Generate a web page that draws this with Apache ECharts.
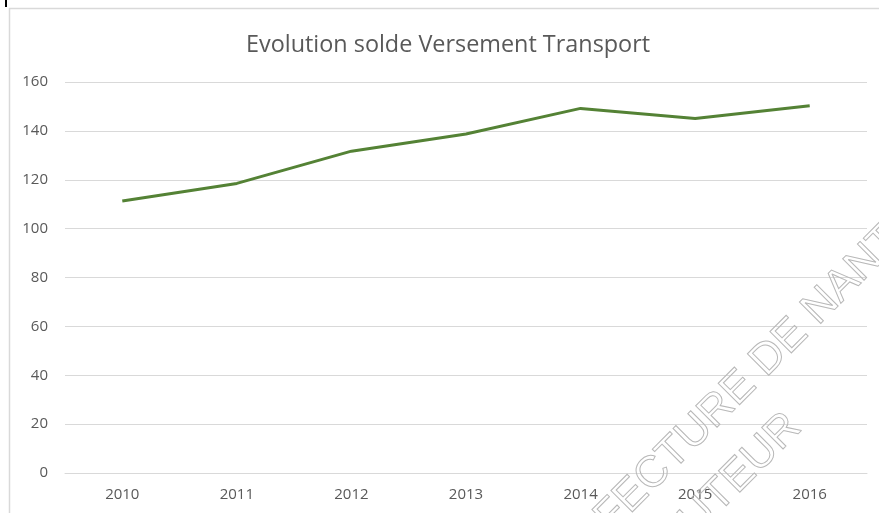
<!DOCTYPE html>
<html>
<head>
<meta charset="utf-8">
<script src="https://cdn.jsdelivr.net/npm/echarts@6/dist/echarts.min.js"></script>
<style>
  html, body { margin: 0; padding: 0; background: #fff; }
  #chart { width: 879px; height: 513px; }
</style>
</head>
<body>
<div id="chart"></div>
<script>
const years = ["2010", "2011", "2012", "2013", "2014", "2015", "2016"];
const solde = [111.3, 118.5, 131.7, 138.7, 149.2, 145.1, 150.3];
const titleText = "Evolution solde Versement Transport";

const chart = echarts.init(document.getElementById("chart"));

chart.setOption({
  animation: false,
  backgroundColor: "#fff",
  title: {
    text: titleText,
    left: 246,
    top: 34,
    padding: 0,
    textStyle: {
      fontFamily: "Open Sans",
      fontSize: 23.4,
      fontWeight: "normal",
      color: "#595959"
    }
  },
  grid: { left: 65, right: 12, top: 82, bottom: 40 },
  xAxis: {
    type: "category",
    data: years,
    boundaryGap: true,
    axisLine: { show: true, lineStyle: { color: "#d9d9d9" } },
    axisTick: { show: false },
    axisLabel: { color: "#595959", fontSize: 15, fontFamily: "Open Sans", margin: 14 }
  },
  yAxis: {
    type: "value",
    min: 0,
    max: 160,
    interval: 20,
    axisLine: { show: false },
    axisTick: { show: false },
    axisLabel: { color: "#595959", fontSize: 15, fontFamily: "Open Sans", margin: 17 },
    splitLine: { lineStyle: { color: "#d9d9d9", width: 1 } }
  },
  series: [{
    type: "line",
    data: solde,
    showSymbol: false,
    lineStyle: { color: "#548235", width: 3 },
    itemStyle: { color: "#548235" }
  }],
  graphic: [
    {
      type: "rect",
      shape: { x: 9.5, y: 8.5, width: 900, height: 600 },
      style: { fill: "none", stroke: "#d9d9d9", lineWidth: 1.5 },
      silent: true
    },
    {
      type: "rect",
      shape: { x: 5, y: 0, width: 2, height: 7 },
      style: { fill: "#000" },
      silent: true
    },
    {
      type: "text",
      x: 737, y: 390,
      rotation: Math.PI / 4,
      style: {
        text: "PREFECTURE DE NANTES",
        font: "44px 'Liberation Sans'",
        fill: "none",
        stroke: "#b8b8b8",
        lineWidth: 1,
        align: "center",
        verticalAlign: "middle"
      },
      silent: true,
      z: 100
    },
    {
      type: "text",
      x: 810, y: 436,
      rotation: Math.PI / 4,
      style: {
        text: "AUTEUR",
        font: "44px 'Liberation Sans'",
        fill: "none",
        stroke: "#b8b8b8",
        lineWidth: 1,
        align: "right",
        verticalAlign: "bottom"
      },
      silent: true,
      z: 100
    }
  ]
});
</script>
</body>
</html>
